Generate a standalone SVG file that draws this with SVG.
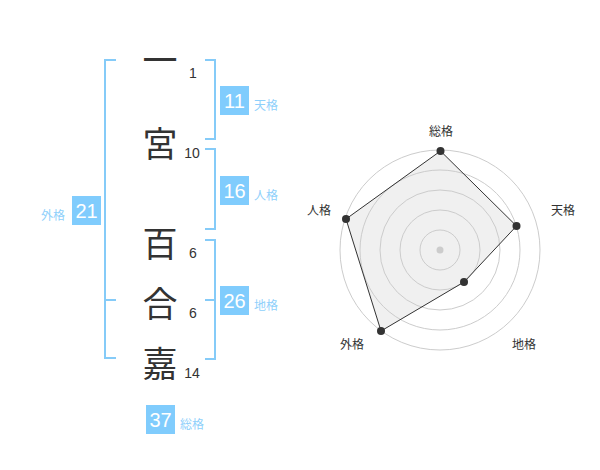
<svg xmlns="http://www.w3.org/2000/svg" width="600" height="470" viewBox="0 0 600 470">
<style>
.ch{font-family:"Noto Sans CJK JP","Noto Sans CJK SC",sans-serif;font-size:35px;fill:#333;text-anchor:middle;dominant-baseline:central}
.num{font-family:"Liberation Sans",Arial,sans-serif;font-size:14px;fill:#333;text-anchor:middle;dominant-baseline:central}
.br{fill:none;stroke:#85cbf8;stroke-width:2}
.box{fill:#80ccfd}
.bt{font-family:"Liberation Sans",Arial,sans-serif;font-size:20px;fill:#fff;text-anchor:middle;dominant-baseline:central}
.lb{font-family:"Noto Sans CJK JP","Noto Sans CJK SC",sans-serif;font-size:12px;fill:#8fd0fb;dominant-baseline:central}
.rl{font-family:"Noto Sans CJK JP","Noto Sans CJK SC",sans-serif;font-size:12px;fill:#333;text-anchor:middle;dominant-baseline:central}
.ring{fill:none;stroke:#ccc;stroke-width:1}
.pt{fill:#333}
</style>
<rect width="600" height="470" fill="#fff"/>
<g id="chars">
<text class="ch" x="160" y="57">一</text>
<text class="ch" x="160" y="141">宮</text>
<text class="ch" x="160" y="241">百</text>
<text class="ch" x="160" y="301">合</text>
<text class="ch" x="160" y="361">嘉</text>
</g>
<g id="strokes">
<text class="num" x="193" y="73">1</text>
<text class="num" x="192" y="153">10</text>
<text class="num" x="193" y="253">6</text>
<text class="num" x="193" y="313">6</text>
<text class="num" x="192" y="373">14</text>
</g>
<g id="connectors">
<path class="br" d="M116,60 H105 V358 H116 M105,300 H116"/>
<path class="br" d="M205,60 H215 V139 H205"/>
<path class="br" d="M205,149 H215 V229 H205"/>
<path class="br" d="M205,240 H215 V359 H205 M205,300 H215"/>
</g>
<g id="tenkaku">
<rect class="box" x="220" y="86" width="29" height="29"/>
<text class="bt" x="234.5" y="101">11</text>
<text class="lb" x="254" y="104">天格</text>
</g>
<g id="jinkaku">
<rect class="box" x="220" y="176" width="29" height="29"/>
<text class="bt" x="234.5" y="191">16</text>
<text class="lb" x="254" y="194">人格</text>
</g>
<g id="gaikaku">
<rect class="box" x="72" y="196" width="29" height="29"/>
<text class="bt" x="86.5" y="211">21</text>
<text class="lb" x="41" y="214">外格</text>
</g>
<g id="chikaku">
<rect class="box" x="220" y="286" width="29" height="29"/>
<text class="bt" x="234.5" y="301">26</text>
<text class="lb" x="254" y="304">地格</text>
</g>
<g id="soukaku">
<rect class="box" x="146" y="405" width="29" height="29"/>
<text class="bt" x="160.5" y="420">37</text>
<text class="lb" x="180" y="423">総格</text>
</g>
<g id="radar">
<polygon points="440.5,151 516.5,226 464,282 381,331 346,219" fill="#f0f0f0" stroke="none"/>
<circle class="ring" cx="440" cy="250" r="20"/>
<circle class="ring" cx="440" cy="250" r="40"/>
<circle class="ring" cx="440" cy="250" r="60"/>
<circle class="ring" cx="440" cy="250" r="80"/>
<circle class="ring" cx="440" cy="250" r="100"/>
<polygon points="440.5,151 516.5,226 464,282 381,331 346,219" fill="none" stroke="#333" stroke-width="1"/>
<circle cx="440" cy="250" r="3.5" fill="#ccc"/>
<circle class="pt" cx="440.5" cy="151" r="4"/>
<circle class="pt" cx="516.5" cy="226" r="4"/>
<circle class="pt" cx="464" cy="282" r="4"/>
<circle class="pt" cx="381" cy="331" r="4"/>
<circle class="pt" cx="346" cy="219" r="4"/>
<text class="rl" x="441" y="130">総格</text>
<text class="rl" x="563" y="209">天格</text>
<text class="rl" x="524" y="343">地格</text>
<text class="rl" x="352" y="343">外格</text>
<text class="rl" x="319" y="209">人格</text>
</g>
</svg>
